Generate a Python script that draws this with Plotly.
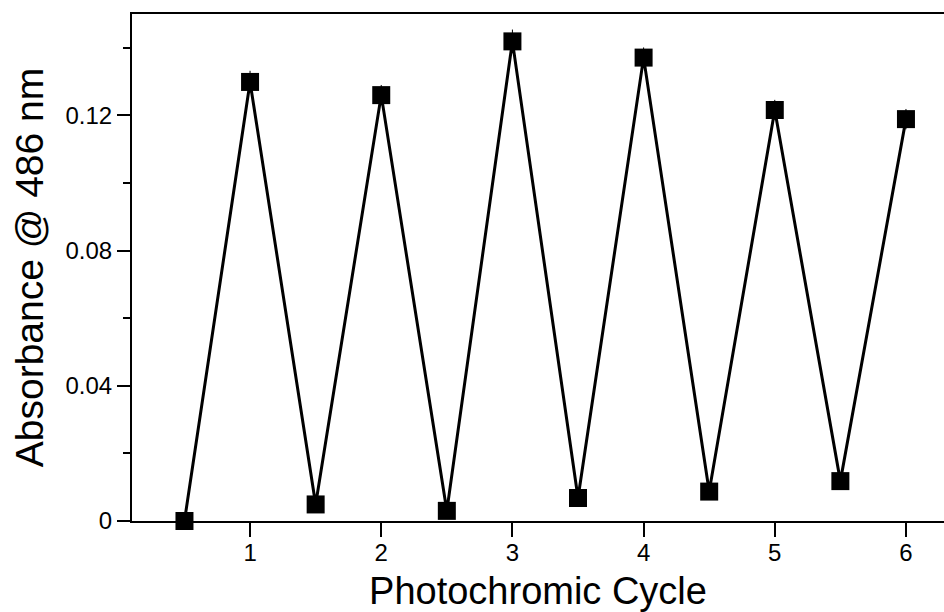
import plotly.graph_objects as go

# Photochromic switching: absorbance at 486 nm over alternating irradiation half-cycles
cycle = [0.5, 1, 1.5, 2, 2.5, 3, 3.5, 4, 4.5, 5, 5.5, 6]
absorbance = [0.0, 0.1299, 0.0049, 0.1260, 0.0030, 0.1419,
              0.0068, 0.1371, 0.0087, 0.1216, 0.0118, 0.1189]
abs_err = [0.0015, 0.0033, 0.0015, 0.0030, 0.0015, 0.0035,
           0.0015, 0.0030, 0.0015, 0.0030, 0.0015, 0.0030]

x_ticks = [1, 2, 3, 4, 5, 6]
y_ticks = [0, 0.04, 0.08, 0.12]
y_tick_text = ["0", "0.04", "0.08", "0.12"]

font_family = "Liberation Sans, Arial, Helvetica, sans-serif"

fig = go.Figure()
fig.add_trace(go.Scatter(
    x=cycle,
    y=absorbance,
    mode="lines+markers",
    line=dict(color="black", width=3),
    marker=dict(symbol="square", size=18, color="black"),
    error_y=dict(type="data", array=abs_err, visible=True,
                 color="black", thickness=1, width=0),
    cliponaxis=False,
    showlegend=False,
))

fig.update_layout(
    width=944,
    height=612,
    margin=dict(l=132, r=0, t=14, b=91),
    paper_bgcolor="white",
    plot_bgcolor="white",
    font=dict(family=font_family, color="black"),
    xaxis=dict(
        range=[0.1, 6.29],
        tickvals=x_ticks,
        ticks="outside",
        ticklen=14,
        tickwidth=2,
        tickcolor="black",
        ticklabelstandoff=-5,
        showline=True,
        linecolor="black",
        linewidth=2,
        mirror=True,
        showgrid=False,
        zeroline=False,
        tickfont=dict(size=24),
        title=dict(text="Photochromic Cycle", font=dict(size=38), standoff=13),
        layer="below traces",
    ),
    yaxis=dict(
        range=[0, 0.15],
        tickvals=y_ticks,
        ticktext=y_tick_text,
        ticks="outside",
        ticklen=13,
        tickwidth=2,
        tickcolor="black",
        minor=dict(dtick=0.02, tick0=0, ticks="outside", ticklen=7,
                   tickwidth=2, tickcolor="black"),
        showline=True,
        linecolor="black",
        linewidth=2,
        showgrid=False,
        zeroline=False,
        tickfont=dict(size=24),
        title=dict(text="Absorbance @ 486 nm", font=dict(size=39), standoff=10),
        layer="below traces",
    ),
)

fig.write_html("out.html")
